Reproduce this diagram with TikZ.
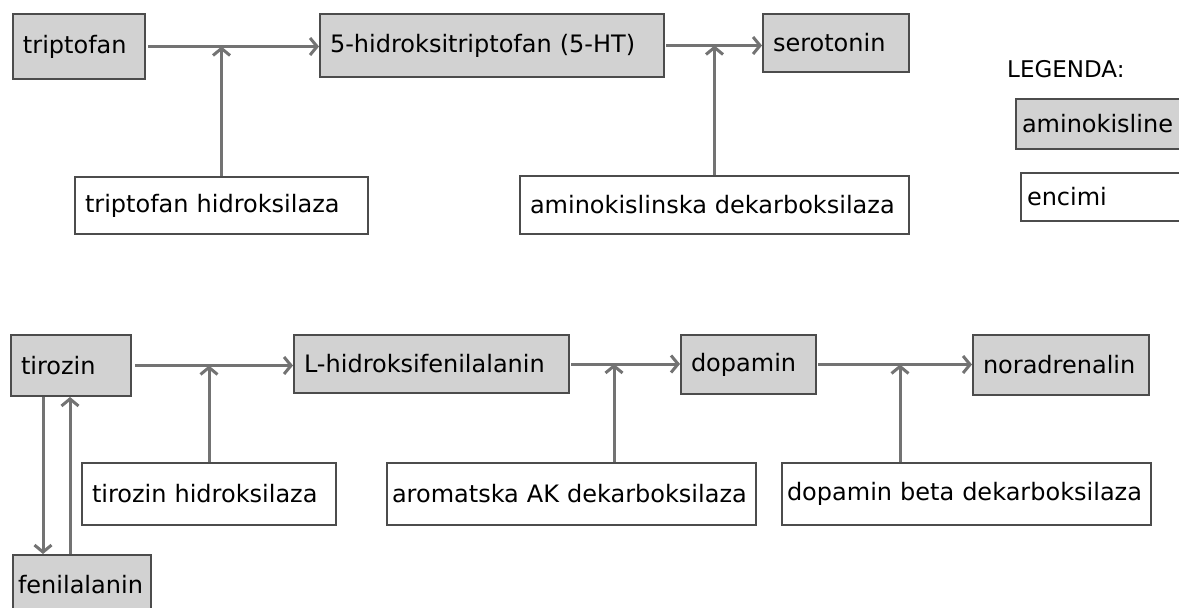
\documentclass[tikz,border=0pt]{standalone}
\usepackage{fontspec}
\setmainfont{DejaVu Sans}
\usetikzlibrary{positioning, arrows.meta}

\begin{document}
\begin{tikzpicture}[x=1pt, y=-1pt, every node/.style={font=\fontsize{24}{28}\selectfont}]

  \tikzstyle{module}=[draw=black!70, line width=2pt, inner xsep=10pt, inner ysep=4pt, align=left]
  \tikzstyle{amino}=[module, fill=gray!35]
  \tikzstyle{enzyme}=[module, fill=white]
  \tikzstyle{flow}=[draw=black!55, line width=3pt, -{Straight Barb[length=7pt, width=17pt]}]

  \useasboundingbox (0,0) rectangle (1179,608);
  \clip (0,0) rectangle (1179,608);

  % serotonin pathway
  \node [amino, anchor=north west, minimum height=65pt, text width=112pt] (tript) at (12,13) {triptofan};
  \node [amino, right=173pt of tript.north east, anchor=north west, minimum height=63pt, text width=324pt] (htp) {5-hidroksitriptofan (5-HT)};
  \node [amino, right=97pt of htp.north east, anchor=north west, minimum height=58pt, text width=126pt] (sero) {serotonin};

  \node [enzyme, below right=96pt and 62pt of tript.south west, minimum height=57pt, text width=273pt] (trhyd) {triptofan hidroksilaza};
  \node [enzyme, below right=97pt and 200pt of htp.south west, minimum height=58pt, text width=369pt] (aadc) {aminokislinska dekarboksilaza};

  % legend
  \node [anchor=west, inner sep=0pt, font=\fontsize{23}{27}\selectfont] (legtitle) at (1007,69) {LEGENDA:};
  \node [amino, anchor=north west, minimum height=50pt, inner xsep=6pt, text width=180pt] (legamino) at (1015,98) {aminokisline};
  \node [enzyme, anchor=north west, minimum height=48pt, inner xsep=6pt, text width=180pt] (legenc) at (1020,172) {encimi};

  % dopamine pathway
  \node [amino, anchor=north west, minimum height=61pt, text width=100pt] (tyr) at (10,334) {tirozin};
  \node [amino, right=161pt of tyr.north east, anchor=north west, minimum height=58pt, text width=255pt] (ldopa) {L-hidroksifenilalanin};
  \node [amino, right=110pt of ldopa.north east, anchor=north west, minimum height=59pt, text width=115pt] (dopa) {dopamin};
  \node [amino, right=155pt of dopa.north east, anchor=north west, minimum height=60pt, text width=156pt] (nor) {noradrenalin};

  \node [enzyme, below right=65pt and 71pt of tyr.south west, minimum height=62pt, text width=234pt] (tyhyd) {tirozin hidroksilaza};
  \node [enzyme, below right=68pt and 93pt of ldopa.south west, minimum height=62pt, inner xsep=5pt, text width=359pt] (aaad) {aromatska AK dekarboksilaza};
  \node [enzyme, below right=67pt and 101pt of dopa.south west, minimum height=62pt, inner xsep=5pt, text width=359pt] (dbh) {dopamin beta dekarboksilaza};

  \node [amino, below right=157pt and 2pt of tyr.south west, minimum height=60pt, inner xsep=5pt, text width=128pt] (phe) {fenilalanin};

  \coordinate (aaad-in) at ([xshift=228pt]aaad.north west);
  \coordinate (dbh-in) at ([xshift=119pt]dbh.north west);
  \coordinate (tyr-out) at ([xshift=33pt]tyr.south west);
  \coordinate (phe-out) at ([xshift=58pt]phe.north west);

  \draw [flow, shorten <=2pt] (tript) -- (tript -| htp.west);
  \draw [flow] (trhyd) -- (trhyd |- tript);
  \draw [flow, shorten <=1pt] (htp) -- (htp -| sero.west);
  \draw [flow] (aadc) -- (aadc |- htp);

  \draw [flow, shorten <=3pt] (tyr) -- (tyr -| ldopa.west);
  \draw [flow] (tyhyd) -- (tyhyd |- tyr);
  \draw [flow, shorten <=1pt] (ldopa) -- (ldopa -| dopa.west);
  \draw [flow] (aaad-in) -- (aaad-in |- ldopa);
  \draw [flow, shorten <=1pt] (dopa) -- (dopa -| nor.west);
  \draw [flow] (dbh-in) -- (dbh-in |- dopa);

  \draw [flow] (tyr-out) -- (tyr-out |- phe.north);
  \draw [flow] (phe-out) -- (phe-out |- tyr.south);

\end{tikzpicture}
\end{document}
